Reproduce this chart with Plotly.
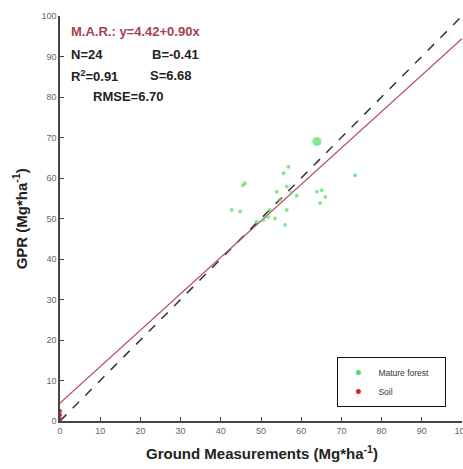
import plotly.graph_objects as go

# Mature forest: ground measurements (x) vs GPR (y)
forest_x = [63.9, 56.8, 55.6, 73.4, 46.0, 53.9, 56.4, 58.9, 65.1, 63.9, 64.7, 54.7,
            42.7, 44.8, 52.2, 51.8, 50.6, 53.5, 56.0, 56.4, 48.9, 45.5, 57.5, 66.0]
forest_y = [69.0, 62.8, 61.2, 60.7, 58.7, 56.6, 57.9, 55.6, 57.0, 56.6, 53.8, 54.6,
            52.1, 51.7, 52.1, 50.4, 49.6, 50.0, 48.4, 52.1, 49.2, 58.2, 56.4, 55.3]
soil_x = [0.0, 0.0, 0.0]
soil_y = [0.5, 1.5, 2.5]

intercept = 4.42
slope = 0.90
line_x = [0, 100]
fit_y = [intercept + slope * v for v in line_x]
one_to_one = [0, 100]

x_ticks = [0, 10, 20, 30, 40, 50, 60, 70, 80, 90, 100]
y_ticks = [0, 10, 20, 30, 40, 50, 60, 70, 80, 90, 100]

fig = go.Figure()
fig.add_trace(go.Scatter(x=line_x, y=one_to_one, mode="lines",
                         line=dict(color="#333333", width=1.5, dash="dash"),
                         showlegend=False, hoverinfo="skip"))
fig.add_trace(go.Scatter(x=line_x, y=fit_y, mode="lines",
                         line=dict(color="#b24a58", width=1.2),
                         showlegend=False, hoverinfo="skip"))
sizes = [9] + [4] * (len(forest_x) - 1)
fig.add_trace(go.Scatter(x=forest_x, y=forest_y, mode="markers", name="Mature forest",
                         marker=dict(color="#55dd66", size=sizes, opacity=0.7,
                                     line=dict(width=0)), showlegend=False))
fig.add_trace(go.Scatter(x=soil_x, y=soil_y, mode="markers", name="Soil",
                         marker=dict(color="#e02030", size=4), showlegend=False))
# legend-only entries with small markers
fig.add_trace(go.Scatter(x=[None], y=[None], mode="markers",
                         name="Mature forest&nbsp;&nbsp;&nbsp;&nbsp;&nbsp;",
                         marker=dict(color="#55dd66", size=5)))
fig.add_trace(go.Scatter(x=[None], y=[None], mode="markers", name="Soil",
                         marker=dict(color="#e02030", size=5)))

font_txt = "Liberation Sans, Arial, sans-serif"
anns = [
    dict(x=2.3, y=96.2, text="<b>M.A.R.: y=4.42+0.90x</b>", color="#a8404e"),
    dict(x=2.3, y=90.6, text="<b>N=24</b>", color="#222222"),
    dict(x=22.3, y=90.6, text="<b>B=-0.41</b>", color="#222222"),
    dict(x=2.3, y=85.2, text="<b>R<sup>2</sup>=0.91</b>", color="#222222"),
    dict(x=22.0, y=85.2, text="<b>S=6.68</b>", color="#222222"),
    dict(x=7.8, y=80.2, text="<b>RMSE=6.70</b>", color="#222222"),
]
for a in anns:
    fig.add_annotation(x=a["x"], y=a["y"], xref="x", yref="y", text=a["text"],
                       showarrow=False, xanchor="left", yanchor="middle",
                       font=dict(family=font_txt, size=13, color=a["color"]))

# axis titles as annotations
fig.add_annotation(x=0.502, y=-0.077, xref="paper", yref="paper",
                   text="<b>Ground Measurements (Mg*ha<sup>-1</sup>)</b>",
                   showarrow=False, xanchor="center", yanchor="middle",
                   font=dict(family=font_txt, size=15, color="#222222"))
fig.add_annotation(x=-0.10, y=0.50, xref="paper", yref="paper",
                   text="<b>GPR (Mg*ha<sup>-1</sup>)</b>", textangle=-90,
                   showarrow=False, xanchor="center", yanchor="middle",
                   font=dict(family=font_txt, size=15, color="#222222"))

axis_common = dict(showline=True, linecolor="#444444", linewidth=1.5, ticks="inside",
                   ticklen=4, tickcolor="#444444", showgrid=False, zeroline=False,
                   automargin=False,
                   tickfont=dict(family=font_txt, size=9, color="#666666"))
fig.update_xaxes(range=[0, 100], tickvals=x_ticks, ticktext=[str(v) for v in x_ticks],
                 ticklabeloverflow="allow", **axis_common)
fig.update_yaxes(range=[0, 100], tickvals=y_ticks, ticktext=[str(v) for v in y_ticks],
                 **axis_common)
fig.update_layout(
    width=463, height=469,
    margin=dict(l=60, r=1, t=16, b=48),
    paper_bgcolor="white", plot_bgcolor="white",
    showlegend=True,
    legend=dict(x=0.69, y=0.158, xanchor="left", yanchor="top",
                bordercolor="#111111", borderwidth=1, bgcolor="white",
                font=dict(family=font_txt, size=8.5, color="#333333"),
                tracegroupgap=0, itemwidth=30),
)
fig.write_html("out.html", config={"displayModeBar": False},
               post_script="document.body.style.margin='0';")
